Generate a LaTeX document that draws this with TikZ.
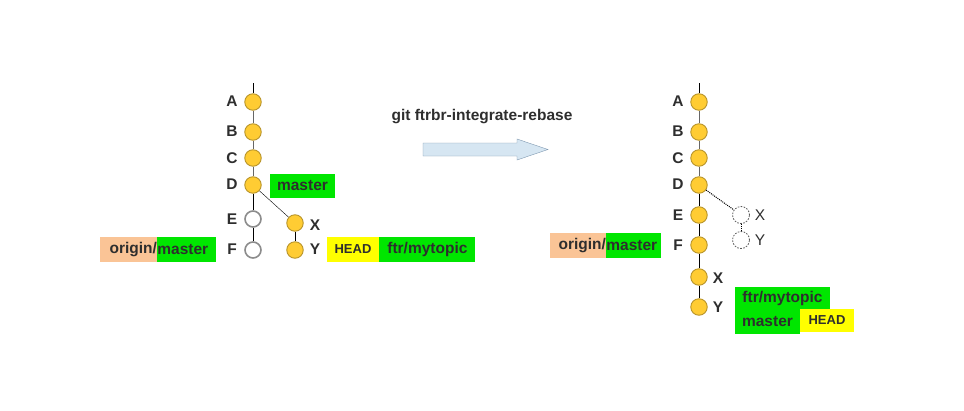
\documentclass[tikz,border=0pt]{standalone}
\usepackage{fontspec}
\setmainfont{Liberation Sans}
\usepackage{xcolor}
\usetikzlibrary{positioning}
\definecolor{cmt}{HTML}{FFCC33}
\definecolor{cmtline}{HTML}{B8942A}
\definecolor{brgreen}{HTML}{00E600}
\definecolor{brorange}{HTML}{FAC496}
\definecolor{bryellow}{HTML}{FFFF00}
\definecolor{txt}{HTML}{2E2E2E}
\definecolor{arrfill}{HTML}{D6E6F2}
\definecolor{arrline}{HTML}{7F98B0}
\tikzset{commit/.style={circle,draw=cmtline,fill=cmt,line width=0.9pt,minimum size=16.5pt,inner sep=0pt},
  lost/.style={circle,draw=gray!90,line width=1.6pt,fill=white,minimum size=16pt,inner sep=0pt},
  ghost/.style={circle,draw=gray!70!black,dash pattern=on 1.6pt off 1.4pt,line width=0.8pt,minimum size=17pt,inner sep=0pt},
  lbl/.style={text=txt,font=\fontsize{15.5}{18}\selectfont\bfseries,inner sep=0pt},
  glbl/.style={text=txt,font=\fontsize{15.5}{18}\selectfont,inner sep=0pt},
  br/.style={text=txt,font=\fontsize{15.5}{18}\selectfont\bfseries,inner sep=0pt,minimum height=24pt},
  orgbr/.style={br,fill=brorange,text width=57pt,align=right,minimum height=25pt},
  mstbr/.style={br,fill=brgreen,text width=59pt,align=left,minimum height=25pt},
  hd/.style={text=txt,fill=bryellow,font=\fontsize{13}{16}\selectfont\bfseries,inner sep=0pt,minimum height=24pt}}
\begin{document}
\begin{tikzpicture}[x=1pt,y=-1pt]
        \useasboundingbox (0,0) rectangle (964,410);

        % before
        \coordinate (ltop) at (253,83);
        \node[commit] (la) at (253,102) {};
        \node[commit] (lb) at (253,132) {};
        \node[commit] (lc) at (253,158) {};
        \node[commit] (ld) at (253,185) {};
        \node[lost] (le) at (253,219) {};
        \node[lost] (lf) at (253,250) {};
        \node[commit] (lx) at (295,223) {};
        \node[commit] (ly) at (295,250) {};

        \node[lbl] (lal) at (232,101) {A};
        \node[lbl] (lbl) at (232,131) {B};
        \node[lbl] (lcl) at (232,158) {C};
        \node[lbl] (ldl) at (232,184) {D};
        \node[lbl] (lel) at (232,219) {E};
        \node[lbl] (lfl) at (232,249) {F};
        \node[lbl] (lxl) at (315,225) {X};
        \node[lbl] (lyl) at (315,249) {Y};

        \draw [black] (ltop) to (la);
        \draw [gray!80!black] (la) to (lb);
        \draw [gray!80!black] (lb) to (lc);
        \draw [gray!80!black] (lc) to (ld);
        \draw [black] (ld) to (le);
        \draw [black] (le) to (lf);
        \draw [black] (ld) to (lx);
        \draw [black] (lx) to (ly);

        \node[br,fill=brgreen,minimum width=65pt] (lmst) at (302.5,185.5) {master};
        \node[orgbr] (lorg) at (128.5,249.5) {origin/};
        \node[mstbr,right=0pt of lorg] (lomst) {master};
        \node[hd,minimum width=52pt,minimum height=25pt] (lhead) at (353,249.5) {HEAD};
        \node[br,fill=brgreen,minimum width=96pt,minimum height=25pt,right=0pt of lhead] (lftr) {ftr/mytopic};

        % command
        \node[lbl] (cmd) at (482,117) {git ftrbr-integrate-rebase};
        \draw [arrline,fill=arrfill] (423,143) -- (517,143) -- (517,139) -- (548,149.5)
            -- (517,160) -- (517,156) -- (423,156) -- cycle;

        % after
        \coordinate (rtop) at (699,83);
        \node[commit] (ra) at (699,102) {};
        \node[commit] (rb) at (699,132) {};
        \node[commit] (rc) at (699,158) {};
        \node[commit] (rd) at (699,185) {};
        \node[commit] (re) at (699,215) {};
        \node[commit] (rf) at (699,245) {};
        \node[commit] (rx) at (699,277) {};
        \node[commit] (ry) at (699,307) {};
        \node[ghost] (gx) at (741,215) {};
        \node[ghost] (gy) at (741,240) {};

        \node[lbl] (ral) at (678,101) {A};
        \node[lbl] (rbl) at (678,131) {B};
        \node[lbl] (rcl) at (678,158) {C};
        \node[lbl] (rdl) at (678,184) {D};
        \node[lbl] (rel) at (678,215) {E};
        \node[lbl] (rfl) at (678,245) {F};
        \node[lbl] (rxl) at (718,278) {X};
        \node[lbl] (ryl) at (718,307) {Y};
        \node[glbl] (gxl) at (760,215) {X};
        \node[glbl] (gyl) at (760,240) {Y};

        \draw [black] (rtop) to (ra);
        \draw [gray!80!black] (ra) to (rb);
        \draw [gray!80!black] (rb) to (rc);
        \draw [gray!80!black] (rc) to (rd);
        \draw [black] (rd) to (re);
        \draw [black] (re) to (rf);
        \draw [black] (rf) to (rx);
        \draw [black] (rx) to (ry);
        \draw [black,densely dotted,line width=1pt] (rd) to (gx);
        \draw [black,densely dotted,line width=1pt] (gx) to (gy);

        \node[orgbr,text width=56pt] (rorg) at (578,245.5) {origin/};
        \node[mstbr,text width=55pt,right=0pt of rorg] (romst) {master};
        \node[br,fill=brgreen,minimum width=95pt,minimum height=23pt] (rftr) at (782.5,298) {ftr/mytopic};
        \node[br,fill=brgreen,minimum width=65pt] (rmst) at (767.5,321.5) {master};
        \node[hd,minimum width=54pt,minimum height=23pt] (rhead) at (827,320.5) {HEAD};
    \end{tikzpicture}
\end{document}
